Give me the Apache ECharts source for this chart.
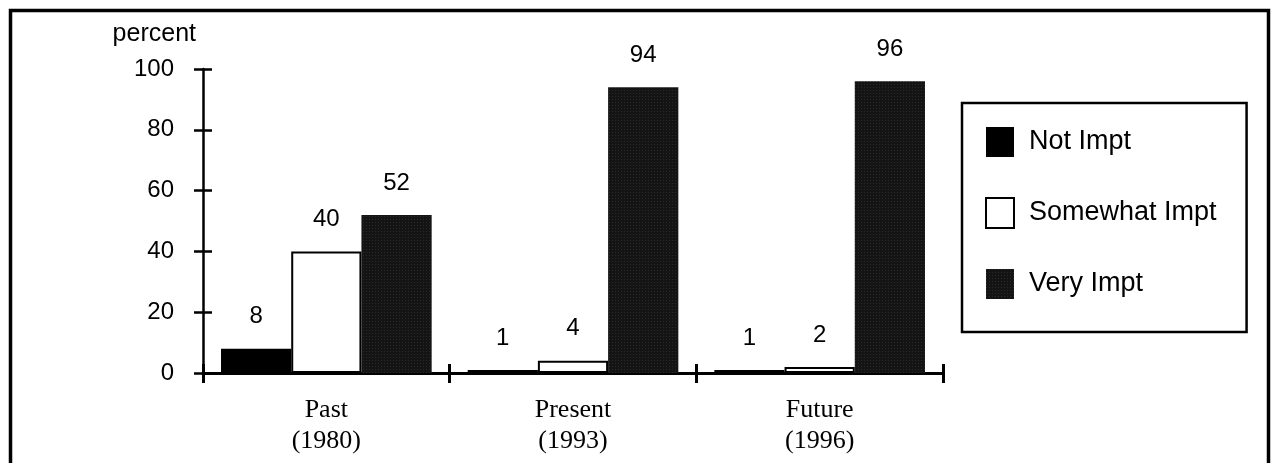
<!DOCTYPE html>
<html>
<head>
<meta charset="utf-8">
<script src="https://cdn.jsdelivr.net/npm/echarts@6/dist/echarts.min.js"></script>
<style>
  html, body { margin: 0; padding: 0; background: #fff; }
  #chart { width: 1274px; height: 463px; }
</style>
</head>
<body>
<div id="chart"></div>
<script>
// 分类
const categories = ['Past\n(1980)', 'Present\n(1993)', 'Future\n(1996)']
// 各系列数值（百分比）
const notImpt = [8, 1, 1]
const somewhatImpt = [40, 4, 2]
const veryImpt = [52, 94, 96]
const seriesNames = ['Not Impt', 'Somewhat Impt', 'Very Impt']

const sans = '"Liberation Sans", Arial, sans-serif'
const serif = '"Liberation Serif", "Times New Roman", serif'

const chart = echarts.init(document.getElementById('chart'))

const valueLabel = {
  show: true,
  position: 'top',
  distance: 20,
  color: '#000',
  fontSize: 24,
  fontFamily: sans,
}

const option = {
  backgroundColor: '#fff',
  animation: false,
  graphic: [
    {
      type: 'rect',
      shape: { x: 10.5, y: 10.5, width: 1258, height: 520 },
      style: { fill: 'none', stroke: '#000', lineWidth: 3.5 },
      silent: true,
    },
  ],
  grid: { left: 203, right: 331, top: 69, bottom: 90 },
  legend: {
    orient: 'vertical',
    left: 962,
    top: 103,
    padding: [24, 30, 33, 23],
    itemWidth: 28,
    itemHeight: 30,
    itemGap: 40,
    borderColor: '#000',
    borderWidth: 2.5,
    borderRadius: 0,
    icon: 'rect',
    selectedMode: false,
    textStyle: { color: '#000', fontSize: 27, fontFamily: sans, padding: [0, 0, 0, 10] },
    data: seriesNames,
  },
  xAxis: [
    {
      type: 'category',
      data: categories,
      position: 'bottom',
      axisLine: { lineStyle: { color: '#000', width: 3 } },
      axisTick: { show: true, length: 10, lineStyle: { color: '#000', width: 3 } },
      axisLabel: {
        color: '#000',
        fontSize: 26,
        fontFamily: serif,
        lineHeight: 31,
        margin: 22,
      },
    },
    {
      type: 'category',
      data: categories,
      position: 'bottom',
      axisLine: { show: false },
      axisTick: { show: true, inside: true, length: 9, lineStyle: { color: '#000', width: 3 } },
      axisLabel: { show: false },
      splitLine: { show: false },
    },
  ],
  yAxis: [
    {
      type: 'value',
      position: 'left',
      min: 0,
      max: 100,
      interval: 20,
      name: 'percent',
      nameLocation: 'end',
      nameGap: 22,
      nameTextStyle: {
        color: '#000',
        fontSize: 25,
        fontFamily: sans,
        align: 'right',
        padding: [0, 7, 0, 0],
      },
      axisLine: { show: true, lineStyle: { color: '#000', width: 2.5 } },
      axisTick: { show: true, length: 9, lineStyle: { color: '#000', width: 2.5 } },
      axisLabel: { color: '#000', fontSize: 24, fontFamily: sans, margin: 29 },
      splitLine: { show: false },
    },
    {
      type: 'value',
      position: 'left',
      min: 0,
      max: 100,
      interval: 20,
      axisLine: { show: false },
      axisTick: { show: true, inside: true, length: 9, lineStyle: { color: '#000', width: 2.5 } },
      axisLabel: { show: false },
      splitLine: { show: false },
    },
  ],
  series: [
    {
      name: seriesNames[0],
      type: 'bar',
      data: notImpt,
      barGap: '0%',
      barCategoryGap: '14.6%',
      itemStyle: { color: '#000' },
      label: valueLabel,
    },
    {
      name: seriesNames[1],
      type: 'bar',
      data: somewhatImpt,
      itemStyle: { color: '#fff', borderColor: '#000', borderWidth: 2 },
      label: valueLabel,
    },
    {
      name: seriesNames[2],
      type: 'bar',
      data: veryImpt,
      itemStyle: {
        color: '#141414',
        decal: {
          symbol: 'rect',
          symbolSize: 0.6,
          color: 'rgba(190,190,190,0.45)',
          dashArrayX: [1, 2],
          dashArrayY: [1, 2],
        },
      },
      label: valueLabel,
    },
  ],
}

chart.setOption(option)
</script>
</body>
</html>
